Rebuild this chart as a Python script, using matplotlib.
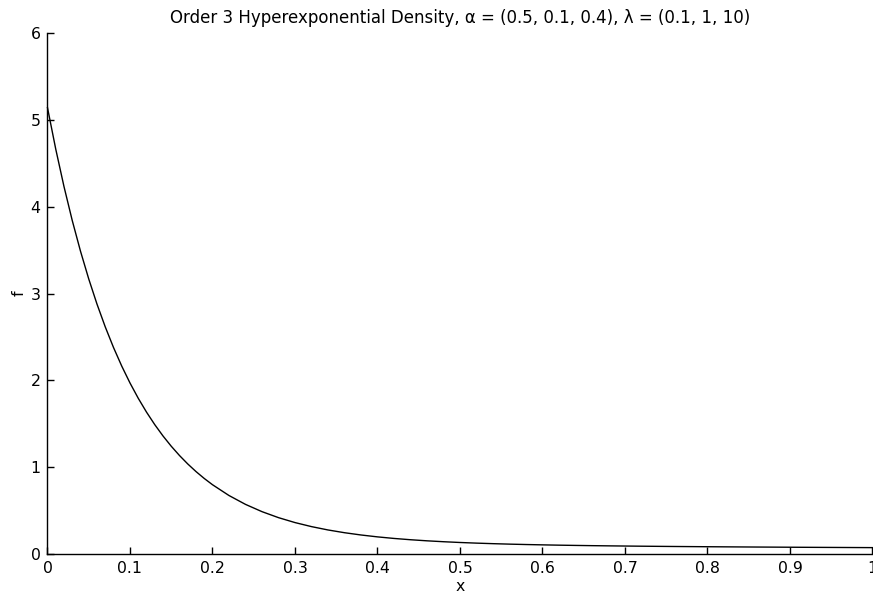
import matplotlib
matplotlib.use("Agg")
import matplotlib.pyplot as plt

x_vals = [0.00, 0.01, 0.02, 0.03, 0.04, 0.05, 0.06, 0.07, 0.08, 0.09, 0.10,
          0.11, 0.12, 0.13, 0.14, 0.15, 0.16, 0.17, 0.18, 0.19, 0.20,
          0.22, 0.24, 0.26, 0.28, 0.30, 0.32, 0.34, 0.36, 0.38, 0.40,
          0.42, 0.44, 0.46, 0.48, 0.50, 0.52, 0.54, 0.56, 0.58, 0.60,
          0.62, 0.64, 0.66, 0.68, 0.70, 0.72, 0.74, 0.76, 0.78, 0.80,
          0.82, 0.84, 0.86, 0.88, 0.90, 0.92, 0.94, 0.96, 0.98, 1.00]
f_vals = [5.140, 4.6632, 4.2316, 3.8410, 3.4875, 3.1676, 2.8780, 2.6159, 2.3786, 2.1639, 1.9695,
          1.7935, 1.6342, 1.4900, 1.3594, 1.2411, 1.1341, 1.0371, 0.9493, 0.8698, 0.7978,
          0.6734, 0.5713, 0.4875, 0.4185, 0.3618, 0.3152, 0.2767, 0.2450, 0.2188, 0.1970,
          0.1790, 0.1641, 0.1516, 0.1412, 0.1324, 0.1250, 0.1188, 0.1134, 0.1089, 0.1050,
          0.1015, 0.0986, 0.0959, 0.0936, 0.0915, 0.0896, 0.0879, 0.0863, 0.0849, 0.0835,
          0.0823, 0.0811, 0.0799, 0.0789, 0.0778, 0.0768, 0.0759, 0.0750, 0.0741, 0.0732]
x_ticks = [0, 0.1, 0.2, 0.3, 0.4, 0.5, 0.6, 0.7, 0.8, 0.9, 1]
x_tick_labels = ["0", "0.1", "0.2", "0.3", "0.4", "0.5", "0.6", "0.7", "0.8", "0.9", "1"]
y_ticks = [0, 1, 2, 3, 4, 5, 6]
y_tick_labels = ["0", "1", "2", "3", "4", "5", "6"]
title = "Order 3 Hyperexponential Density, \u03b1 = (0.5, 0.1, 0.4), \u03bb = (0.1, 1, 10)"

plt.rcParams['font.family'] = ['DejaVu Sans']

fig = plt.figure(figsize=(8.73, 5.93), dpi=100)
ax = fig.add_axes([0.0544, 0.0658, 0.9994 - 0.0544, 0.9443 - 0.0658])
ax.plot(x_vals, f_vals, color='black', lw=1.0, clip_on=False)
ax.set_xlim(0, 1)
ax.set_ylim(0, 6)
ax.spines['top'].set_visible(False)
ax.spines['right'].set_visible(False)
for s in ['left', 'bottom']:
    ax.spines[s].set_linewidth(1.0)
ax.set_xticks(x_ticks)
ax.set_xticklabels(x_tick_labels, fontsize=11.3)
ax.set_yticks(y_ticks)
ax.set_yticklabels(y_tick_labels, fontsize=11.3)
ax.tick_params(direction='in', length=5, width=1.0, pad=5)
ax.set_xlabel('x', fontsize=11.3, labelpad=2)
ax.set_ylabel('f', fontsize=11.3, labelpad=3)
ax.set_title(title, fontsize=12, pad=7)
fig.savefig('out.png', dpi=100)
